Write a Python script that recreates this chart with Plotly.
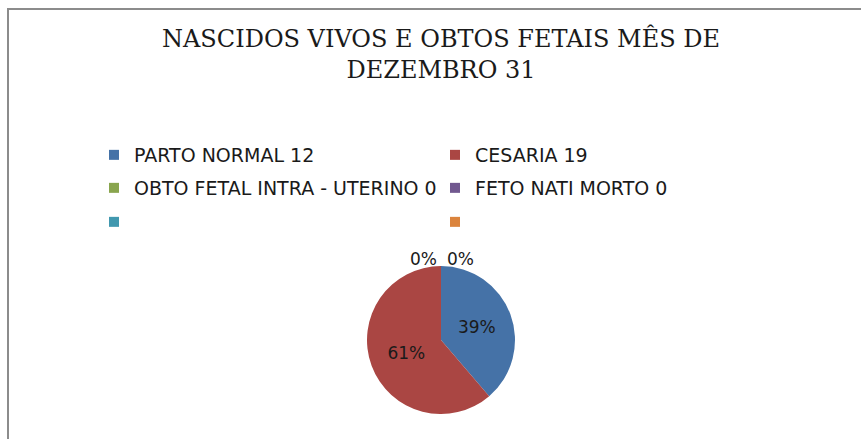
import plotly.graph_objects as go

# chart data
categories = [
    "PARTO NORMAL 12",
    "CESARIA 19",
    "OBTO FETAL INTRA - UTERINO 0",
    "FETO NATI MORTO 0",
    "",
    "",
]
values = [12, 19, 0, 0, 0, 0]
colors = ["#4572A7", "#AA4643", "#89A54E", "#71588F", "#4198AF", "#DB843D"]

W, H = 861, 439
TEXT = "#1a1a1a"
SANS = "DejaVu Sans, sans-serif"


def px_x(x):
    return x / W


def px_y(y):
    return 1 - y / H


fig = go.Figure()

# the pie itself (legend drawn separately so rows can be spaced like the original)
fig.add_trace(
    go.Pie(
        labels=[f"s{i}" for i in range(len(values))],
        values=values,
        marker={"colors": colors},
        sort=False,
        direction="clockwise",
        rotation=0,
        texttemplate="%{percent:.0%}",
        textposition="inside",
        insidetextorientation="horizontal",
        insidetextfont={"family": SANS, "size": 17, "color": TEXT},
        showlegend=False,
        hoverinfo="value+percent",
        domain={"x": [px_x(300), px_x(582)], "y": [px_y(414), px_y(266)]},
    )
)

# legend entries, two per row, one legend per row
for i, (name, color) in enumerate(zip(categories, colors)):
    row = i // 2
    fig.add_trace(
        go.Scatter(
            x=[None],
            y=[None],
            mode="markers",
            name=name,
            marker={"symbol": "square", "size": 10, "color": color},
            legend="legend" if row == 0 else f"legend{row + 1}",
        )
    )

legend_style = {
    "orientation": "h",
    "x": px_x(94),
    "xanchor": "left",
    "yanchor": "middle",
    "entrywidth": 296,
    "entrywidthmode": "pixels",
    "font": {"family": SANS, "size": 19, "color": TEXT},
    "bgcolor": "rgba(0,0,0,0)",
    "itemclick": False,
}
row_y = [155, 188, 222]

# labels for the zero-value slices sit above the pie
zero_font = {"family": SANS, "size": 17, "color": TEXT}
annotations = [
    {"text": "0%", "x": px_x(423), "y": px_y(259), "xref": "paper", "yref": "paper",
     "showarrow": False, "font": zero_font},
    {"text": "0%", "x": px_x(460), "y": px_y(259), "xref": "paper", "yref": "paper",
     "showarrow": False, "font": zero_font},
]

fig.update_layout(
    width=W,
    height=H,
    margin={"l": 0, "r": 0, "t": 0, "b": 0},
    paper_bgcolor="white",
    plot_bgcolor="white",
    title={
        "text": "NASCIDOS VIVOS E OBTOS FETAIS MÊS DE<br>DEZEMBRO 31",
        "x": px_x(441),
        "xanchor": "center",
        "y": px_y(47),
        "yanchor": "middle",
        "font": {"family": "DejaVu Serif, serif", "size": 24, "color": TEXT},
    },
    xaxis={"visible": False},
    yaxis={"visible": False},
    legend={**legend_style, "y": px_y(row_y[0])},
    legend2={**legend_style, "y": px_y(row_y[1])},
    legend3={**legend_style, "y": px_y(row_y[2])},
    annotations=annotations,
    shapes=[
        # chart frame, running off the right and bottom edges
        {"type": "path", "xref": "paper", "yref": "paper",
         "path": f"M {px_x(8)} {px_y(445)} L {px_x(8)} {px_y(9)} L {px_x(870)} {px_y(9)}",
         "line": {"color": "#8c8c8c", "width": 2}},
    ],
)

# drop the page's default body margin so the figure fills the window exactly
fig.write_html(
    "out.html",
    config={"displayModeBar": False},
    post_script="document.body.style.margin='0';document.body.style.overflow='hidden';",
)
